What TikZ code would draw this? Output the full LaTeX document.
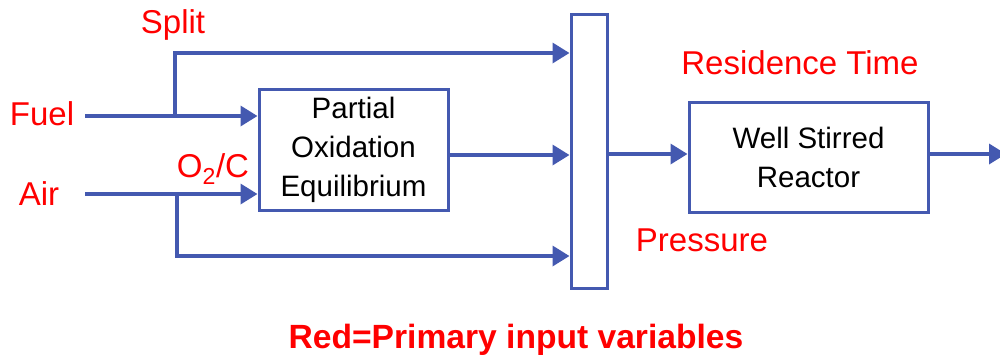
\documentclass[tikz,border=0pt]{standalone}
\usepackage{fontspec}
\setmainfont{Liberation Sans}
\usetikzlibrary{arrows.meta}
\definecolor{flowblue}{RGB}{68,89,176}
\definecolor{labred}{RGB}{255,0,0}
\begin{document}
\begin{tikzpicture}[x=1pt,y=-1pt,
  blockbox/.style={draw=flowblue,line width=3pt,fill=white,inner sep=0pt,align=center,
    font=\fontsize{29.5}{39}\selectfont},
  flow/.style={draw=flowblue,line width=3.5pt},
  flowarr/.style={flow,-{Triangle[length=17pt,width=20pt]}},
  redlab/.style={text=labred,inner sep=0pt,font=\fontsize{33}{38}\selectfont}]
\useasboundingbox (0,0) rectangle (1000,360);
% blocks
\node[blockbox,minimum width=189pt,minimum height=121pt] (poe) at (353.5,149.5) {Partial\\Oxidation\\Equilibrium};
\node[blockbox,minimum width=36pt,minimum height=274pt] (mix) at (589,151) {};
\node[blockbox,minimum width=239pt,minimum height=110pt] (wsr) at (808.5,157) {Well Stirred\\Reactor};
% labels
\node[redlab] (split) at (173,25) {Split};
\node[redlab] (fuel) at (42,114) {Fuel};
\node[redlab] (air) at (39,194) {Air};
\node[redlab] (o2c) at (213,169) {O\textsubscript{2}/C};
\node[redlab] (rt) at (800,63) {Residence Time};
\node[redlab] (pr) at (702,240) {Pressure};
\node[text=labred,inner sep=0pt,font=\fontsize{33.6}{38}\selectfont\bfseries] (legend) at (516,340) {Red=Primary input variables};
% coordinates
\coordinate (fuelstart) at (85,116);
\coordinate (splitj) at (175,116);
\coordinate (splittop) at (175,53);
\coordinate (airstart) at (85,194);
\coordinate (airj) at (177,194);
\coordinate (airbot) at (177,256);
\coordinate (poeout) at (448,155);
\coordinate (mixout) at (607,154);
\coordinate (outend) at (1006,154);
\coordinate (wsrout) at (928,154);
% connectors
\draw[flowarr] (fuelstart) -- (fuelstart -| poe.west);
\draw[flowarr] (splitj) -- (splittop) -- (splittop -| mix.west);
\draw[flowarr] (airstart) -- (airstart -| poe.west);
\draw[flowarr] (airj) -- (airbot) -- (airbot -| mix.west);
\draw[flowarr] (poeout) -- (poeout -| mix.west);
\draw[flowarr] (mixout) -- (mixout -| wsr.west);
\draw[flowarr] (wsrout) -- (outend);
\end{tikzpicture}
\end{document}
